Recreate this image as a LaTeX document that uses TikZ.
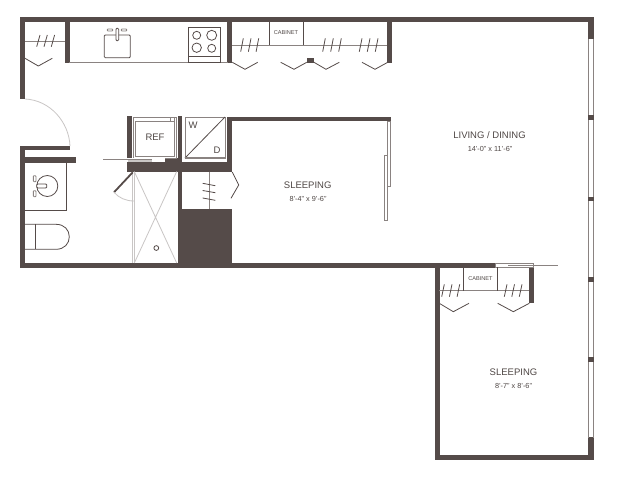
\documentclass[tikz,border=0pt]{standalone}
\usepackage{fontspec}
\setmainfont{Liberation Sans}
\definecolor{wallc}{HTML}{554B49}
\definecolor{linec}{HTML}{8A8381}
\definecolor{softc}{HTML}{C9C6C5}
\definecolor{textc}{HTML}{4F4745}
\tikzset{
  wall/.style={fill=wallc,draw=none},
  thin line/.style={draw=linec,line width=0.9pt},
  dark line/.style={draw=wallc,line width=0.8pt},
  soft line/.style={draw=softc,line width=0.8pt},
  room/.style={text=textc,font=\fontsize{9.5}{11}\selectfont,inner sep=0pt},
  size/.style={text=textc,font=\fontsize{7.3}{8}\selectfont,inner sep=0pt},
  tiny/.style={text=textc,font=\fontsize{5.6}{6}\selectfont,inner sep=0pt},
  app/.style={text=textc,font=\fontsize{9.5}{11}\selectfont,inner sep=0pt},
}
\newcommand{\hashes}[5]{\foreach \d in {0,#5,2*#5}{\draw[dark line,shift={(\d,0)}] (#1,#2) -- (#3,#4);}}
\begin{document}
\begin{tikzpicture}[x=1pt,y=-1pt]
\useasboundingbox (0,0) rectangle (621,480);
\fill[white] (0,0) rectangle (621,480);
% outer walls
\fill[wall] (20,17.3) rectangle (594,22.3);
\fill[wall] (20,17.3) rectangle (25,99);
\fill[wall] (65,22) rectangle (69.5,63);
\fill[wall] (227.3,22) rectangle (232.3,63);
\fill[wall] (387,22) rectangle (392,63);
\fill[wall] (588.4,17.3) rectangle (594,39.3);
\fill[wall] (20,145.5) rectangle (70,149.5);
\fill[wall] (20,145.5) rectangle (25,267.5);
\fill[wall] (20,157.3) rectangle (76,162.5);
\fill[wall] (20,263) rectangle (495,267.5);
\fill[wall] (435,263) rectangle (439.5,459.5);
\fill[wall] (435,454.5) rectangle (594,459.5);
\fill[wall] (588.4,437.3) rectangle (594,459.5);
\fill[wall] (529.3,263.5) rectangle (534.3,303.3);
% glazing right
\draw[thin line] (588.8,39) -- (588.8,438) (593.6,39) -- (593.6,438);
\foreach \y in {115.3,196.5,277,356.7}{\fill[wall] (588.4,\y) rectangle (594,\y+4.8);}
% interior walls
\fill[wall] (126.7,116) rectangle (131.7,171.5);
\fill[wall] (177.5,116) rectangle (182.3,267);
\fill[wall] (227.3,116.5) rectangle (391,121);
\fill[wall] (227.3,116.5) rectangle (232.3,171.5);
\fill[wall] (126.7,158.3) rectangle (182.3,171.5);
\fill[wall] (177.5,161.5) rectangle (232.3,171.5);
\fill[wall] (182.3,209) rectangle (232.3,267);
% entry door
\draw[soft line] (25,99) .. controls (50,100) and (69,122) .. (70,146);
% closet at entry
\draw[thin line] (25,41.7) -- (65,41.7);
\hashes{36.7}{46.7}{40}{35}{7.3}
\draw[dark line] (25,58.3) -- (38.3,66) -- (52.3,58.3);
% kitchen
\draw[thin line] (69,62.4) -- (227.5,62.4);
\draw[dark line,rounded corners=1pt] (104.3,35) rectangle (130.3,57.7);
\draw[dark line,fill=white,rounded corners=1pt] (116,28.3) rectangle (118.7,40.7);
\draw[thin line,rounded corners=0.8pt] (107.3,29) rectangle (112.7,31) (121.3,29) rectangle (126.7,31);
\draw[dark line] (188.3,27.3) rectangle (220,62.4) (188.3,56) -- (220,56);
\draw[dark line] (196.7,35.3) circle (4) (211.7,35.3) circle (5) (196.7,47.7) circle (4.7) (211.7,48.3) circle (4);
% kitchen closets
\draw[thin line] (232,45) -- (387,45);
\draw[dark line] (269.3,22) -- (269.3,45) (303.3,22) -- (303.3,45);
\node[tiny] (cab1) at (286,33) {CABINET};
\hashes{240.7}{51.7}{243.3}{38.3}{7.7}
\hashes{322.7}{51.7}{325.3}{38.3}{8}
\hashes{359.3}{51.7}{362}{38.3}{8}
\draw[dark line] (232.3,62.3) -- (245,69.3) -- (257.7,62.3);
\draw[dark line] (280.7,62.3) -- (294,69.3) -- (306.7,62.3);
\draw[dark line] (314,62.3) -- (326,69.3) -- (339.3,62.3);
\draw[dark line] (362,62.3) -- (375,69.3) -- (387.7,62.3);
\fill[wall] (306.7,58) rectangle (314,63.3);
% fridge
\draw[thin line] (133.5,117) rectangle (176,158);
\draw[thin line] (135,121) rectangle (174.5,156.5);
\draw[thin line] (170,117.3) rectangle (174.5,121);
\node[app] (ref) at (155,137) {REF};
% washer dryer
\draw[thin line] (185,117) rectangle (225,158);
\draw[dark line] (225,117) -- (185,158);
\draw[thin line] (185,157) -- (225,157);
\node[app] (w) at (193,125.5) {W};
\node[app] (d) at (217,150) {D};
% bath door sliver
\fill[white] (127.3,158.3) rectangle (165,161.8);
\draw[thin line] (103.3,159.8) -- (152.3,159.8);
\draw[soft line,line width=1.5pt] (128,160.8) -- (152,160.8);
% bath
\draw[dark line] (25,210) -- (66.7,210) -- (66.7,162);
\draw[dark line] (47.3,186) circle (10.5);
\draw[dark line,fill=white,rounded corners=1pt] (36.7,184) rectangle (46.7,188);
\draw[thin line,rounded corners=0.8pt] (33.3,175.7) rectangle (36,181.7) (33.3,190.7) rectangle (36,196.7);
\draw[dark line] (25,224.3) -- (56,224.3) .. controls (64.5,224.3) and (69.3,230) .. (69.3,236.8) .. controls (69.3,243.5) and (64.5,249.3) .. (56,249.3) -- (25,249.3);
\draw[dark line] (35.7,224.3) -- (35.7,249.3);
% shower
\draw[soft line] (132.3,171.5) -- (132.3,263) (134.3,171.5) -- (134.3,263);
\draw[soft line] (134.3,171.5) -- (176.7,263) (176.7,171.5) -- (134.3,263);
\draw[dark line] (156.3,248) circle (2.4);
\draw[wallc,line width=1.8pt] (132.7,172.3) -- (114,192.3);
\draw[soft line] (114,192.3) .. controls (119,198) and (126,201) .. (134,201);
% closet in bedroom 1
\draw[thin line] (209,171.5) -- (209,209);
\draw[dark line] (202.7,183.3) -- (215.3,185.7) (202.7,190.5) -- (215.3,192.7) (202.7,198) -- (215.3,200.3);
\draw[dark line] (232.3,172) -- (238.7,185) -- (231,198.3);
% sliding panels
\draw[thin line] (387.5,121) rectangle (390.3,186);
\draw[thin line] (384,155) rectangle (387.5,220.7);
% lower closets
\fill[white] (495,263.6) rectangle (534,267);
\draw[thin line] (495,263.6) rectangle (533.8,267);
\draw[thin line] (508.3,265.3) -- (557.7,265.3);
\draw[thin line] (439,290.7) -- (529.3,290.7);
\draw[dark line] (463.7,267) -- (463.7,290.7) (497.7,267) -- (497.7,290.7);
\node[tiny] (cab2) at (480.5,278.7) {CABINET};
\hashes{441.7}{296.7}{444.3}{284.3}{7.7}
\hashes{504.3}{296.7}{507}{284.3}{7.5}
\draw[dark line] (439.3,303.3) -- (453.3,311.7) -- (469,303.3);
\draw[dark line] (497.7,303.3) -- (513.3,311.7) -- (529.3,303.3);
% labels
\node[room] (living) at (489.5,135) {LIVING / DINING};
\node[size] (livings) at (490,149) {14'-0" x 11'-6"};
\node[room] (sleep1) at (307.7,185) {SLEEPING};
\node[size] (sleep1s) at (308,198.7) {8'-4" x 9'-6"};
\node[room] (sleep2) at (513.5,372) {SLEEPING};
\node[size] (sleep2s) at (513.5,386) {8'-7" x 8'-6"};
\end{tikzpicture}
\end{document}
